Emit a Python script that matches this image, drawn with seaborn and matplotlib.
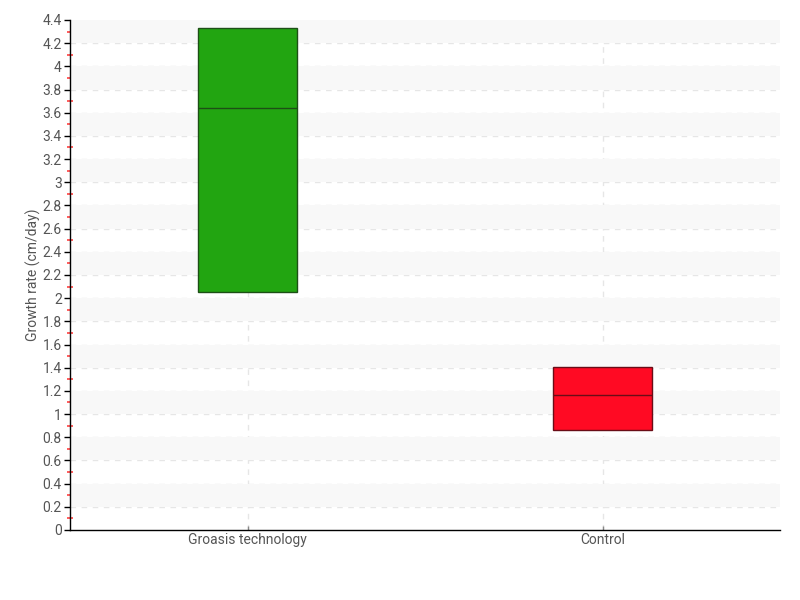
import matplotlib
matplotlib.use("Agg")
import matplotlib.pyplot as plt
import seaborn as sns
import numpy as np
import pandas as pd
from matplotlib.ticker import MultipleLocator, FuncFormatter

categories = ["Groasis technology", "Control"]
q1 = [2.05, 0.865]
median = [3.64, 1.165]
q3 = [4.33, 1.405]
fill_colors = ["#22A511", "#FF0A23"]
edge_colors = ["#1d4f16", "#6a0d17"]

# Build rows so that the library's quartiles equal q1/median/q3 exactly
rows = []
for c, a, m, b in zip(categories, q1, median, q3):
    for v in [a, a, m, b, b]:
        rows.append({"cat": c, "value": v})
df = pd.DataFrame(rows)

sns.set_style("white")
plt.rcParams['font.family'] = ['Roboto', 'DejaVu Sans']

fig = plt.figure(figsize=(8, 6), dpi=100)
ax = fig.add_axes([0.0875, 0.1167, 0.8875, 0.85])

# alternating bands and dashed grid
for y0 in np.arange(0.2, 4.4, 0.4):
    ax.axhspan(y0, y0 + 0.2, color="#f8f8f8", zorder=0, lw=0)
for y in np.arange(0.2, 4.41, 0.2):
    ax.axhline(y, color="#e6e6e6", ls=(0, (4, 4)), lw=1, zorder=0.5)
for x in range(len(categories)):
    ax.axvline(x, color="#e6e6e6", ls=(0, (4, 4)), lw=1, zorder=0.5)

n_before = len(ax.lines)
sns.boxplot(data=df, x="cat", y="value", hue="cat", palette=fill_colors,
            order=categories, hue_order=categories, legend=False,
            width=0.28, whis=0, showcaps=False, showfliers=False,
            saturation=1, linewidth=1, ax=ax)

# per-box edge colours, chosen by box position
for p in ax.patches:
    cx = np.mean(p.get_path().vertices[:, 0])
    idx = int(np.clip(round(cx), 0, 1))
    p.set_edgecolor(edge_colors[idx])
    p.set_zorder(2)
for l in ax.lines[n_before:]:
    xd = np.asarray(l.get_xdata(), dtype=float)
    if len(xd):
        idx = int(np.clip(round(np.mean(xd)), 0, 1))
        l.set_color(edge_colors[idx])
        l.set_zorder(3)

ax.set_xlim(-0.5, 1.5)
ax.set_ylim(0, 4.4)
ax.yaxis.set_major_locator(MultipleLocator(0.2))
ax.yaxis.set_minor_locator(MultipleLocator(0.1))
ax.yaxis.set_major_formatter(FuncFormatter(lambda v, p: ("%.1f" % v).rstrip("0").rstrip(".") if v else "0"))

ax.tick_params(axis="y", which="major", direction="out", length=4, width=1,
               color="black", labelsize=10, labelcolor="#555555", pad=2, left=True)
ax.tick_params(axis="y", which="minor", direction="inout", length=4, width=1.2,
               color="#ff4040", left=True)
ax.tick_params(axis="x", direction="in", length=3, width=1, color="#888888",
               labelsize=10, labelcolor="#555555", pad=2, bottom=True)

for s in ["top", "right"]:
    ax.spines[s].set_visible(False)
for s in ["left", "bottom"]:
    ax.spines[s].set_color("black")
    ax.spines[s].set_linewidth(1)

ax.set_xlabel("")
ax.set_ylabel("Growth rate (cm/day)", fontsize=10, color="#555555", labelpad=0)
ax.yaxis.set_label_coords(-0.041, 0.5)
ax.set_facecolor("white")

fig.savefig("out.png", dpi=100)
